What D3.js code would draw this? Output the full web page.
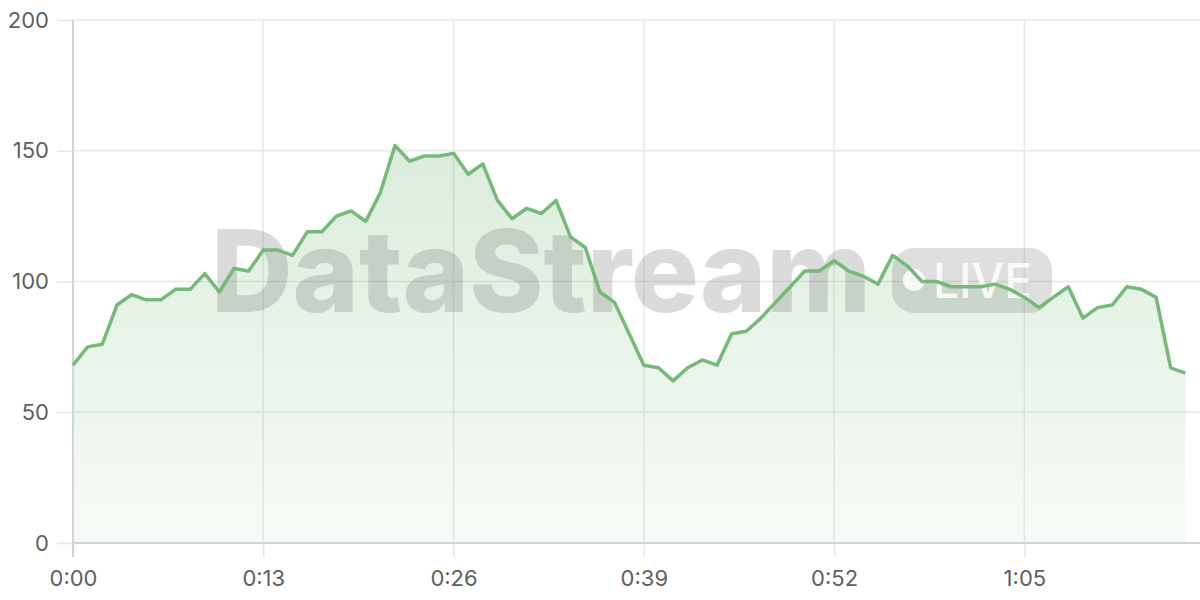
<!DOCTYPE html>
<html>
<head>
<meta charset="utf-8">
<script src="https://cdn.jsdelivr.net/npm/d3@7"></script>
<style>
  html, body { margin: 0; padding: 0; background: #fff; }
  svg { display: block; font-family: Inter, "Noto Sans", sans-serif; }
</style>
</head>
<body>
<svg id="chart" width="1200" height="600"></svg>
<script>
// seconds since start
const seconds = d3.range(0, 77);
const values = [68, 75, 76, 91, 95, 93, 93, 97, 97, 103,
  96, 105, 104, 112, 112, 110, 119, 119, 125, 127,
  123, 134, 152, 146, 148, 148, 149, 141, 145, 131,
  124, 128, 126, 131, 117, 113, 96, 92, 80, 68,
  67, 62, 67, 70, 68, 80, 81, 86, 92, 98,
  104, 104, 108, 104, 102, 99, 110, 106, 100, 100,
  98, 98, 98, 99, 97, 94, 90, 94, 98, 86,
  90, 91, 98, 97, 94, 67, 65];
const xTickValues = [0, 13, 26, 39, 52, 65];
const yTickValues = [0, 50, 100, 150, 200];
const watermarkText = "DataStream";
const badgeText = "LIVE";

const data = seconds.map((s, i) => ({ s, v: values[i] }));

const svg = d3.select("#chart");
const m = { left: 73, right: 0, top: 20, bottom: 57 };
const W = 1200, H = 600;

const x = d3.scaleLinear().domain([0, 77]).range([m.left, W - m.right]);
const y = d3.scaleLinear().domain([0, 200]).range([H - m.bottom, m.top]);

const fmt = s => Math.floor(s / 60) + ":" + String(s % 60).padStart(2, "0");

// gradient
const defs = svg.append("defs");
const grad = defs.append("linearGradient").attr("id", "areaGrad")
  .attr("x1", 0).attr("y1", 0).attr("x2", 0).attr("y2", 1);
grad.append("stop").attr("offset", "0%").attr("stop-color", "rgb(118,188,122)").attr("stop-opacity", 0.27);
grad.append("stop").attr("offset", "100%").attr("stop-color", "rgb(118,188,122)").attr("stop-opacity", 0.06);

// y grid + ticks
const yAxis = svg.append("g")
  .attr("transform", `translate(${m.left},0)`)
  .call(d3.axisLeft(y).tickValues(yTickValues).tickSize(16).tickPadding(8))
  .call(g => g.select(".domain").remove());
yAxis.selectAll(".tick line").attr("stroke", "#e6e6e6").attr("stroke-width", 1.5);
yAxis.selectAll(".tick text").attr("fill", "#606060").style("font-size", "22px")
  .style("font-family", "Inter, sans-serif");
svg.append("g").selectAll("line").data(yTickValues).join("line")
  .attr("x1", m.left).attr("x2", W).attr("y1", d => y(d)).attr("y2", d => y(d))
  .attr("stroke", "#e8e8e8").attr("stroke-width", 1.5);

// x grid + ticks
const xAxis = svg.append("g")
  .attr("transform", `translate(0,${H - m.bottom})`)
  .call(d3.axisBottom(x).tickValues(xTickValues).tickFormat(fmt).tickSize(14).tickPadding(13))
  .call(g => g.select(".domain").remove());
xAxis.selectAll(".tick line").attr("stroke", "#e6e6e6").attr("stroke-width", 1.5);
xAxis.selectAll(".tick text").attr("fill", "#606060").style("font-size", "22px")
  .style("font-family", "Inter, sans-serif");
svg.append("g").selectAll("line").data(xTickValues.slice(1)).join("line")
  .attr("x1", d => x(d)).attr("x2", d => x(d)).attr("y1", m.top).attr("y2", H - m.bottom)
  .attr("stroke", "#e8e8e8").attr("stroke-width", 1.5);

// area
svg.append("path").datum(data)
  .attr("fill", "url(#areaGrad)")
  .attr("d", d3.area().x(d => x(d.s)).y0(y(0)).y1(d => y(d.v)));

// axis lines
svg.append("line").attr("x1", m.left).attr("x2", m.left).attr("y1", m.top).attr("y2", H - m.bottom + 14)
  .attr("stroke", "#d4d4d4").attr("stroke-width", 2);
svg.append("line").attr("x1", m.left).attr("x2", W).attr("y1", y(0)).attr("y2", y(0))
  .attr("stroke", "#d4d4d4").attr("stroke-width", 2);

// watermark
const wm = svg.append("g").attr("pointer-events", "none");
wm.append("text")
  .attr("x", 211).attr("y", 312)
  .attr("textLength", 660).attr("lengthAdjust", "spacingAndGlyphs")
  .style("font-family", "Inter, sans-serif").style("font-weight", 800)
  .style("font-size", "114px")
  .attr("fill", "rgb(110,110,110)").attr("fill-opacity", 0.25)
  .text(watermarkText);
wm.append("rect")
  .attr("x", 892).attr("y", 248).attr("width", 160).attr("height", 65).attr("rx", 22)
  .attr("fill", "rgb(110,110,110)").attr("fill-opacity", 0.22);
wm.append("circle").attr("cx", 914).attr("cy", 280).attr("r", 11)
  .attr("fill", "#fff").attr("fill-opacity", 0.85);
wm.append("text")
  .attr("x", 933).attr("y", 298)
  .attr("textLength", 99).attr("lengthAdjust", "spacingAndGlyphs")
  .style("font-family", "Inter, sans-serif").style("font-weight", 500)
  .style("font-size", "48px")
  .attr("fill", "#fff").attr("fill-opacity", 0.85)
  .text(badgeText);

// line
svg.append("path").datum(data)
  .attr("fill", "none")
  .attr("stroke", "rgb(118,185,120)")
  .attr("stroke-width", 3.5)
  .attr("stroke-linejoin", "round")
  .attr("d", d3.line().x(d => x(d.s)).y(d => y(d.v)));
</script>
</body>
</html>
